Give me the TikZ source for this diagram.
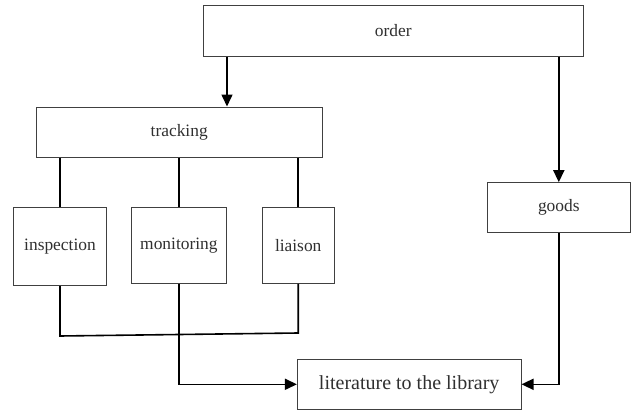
\documentclass[tikz,border=0pt]{standalone}
\usepackage{fontspec}
\setmainfont{Liberation Serif}
\usetikzlibrary{arrows.meta}
\definecolor{boxline}{HTML}{404040}
\definecolor{txt}{HTML}{303030}
\begin{document}
\begin{tikzpicture}[x=1pt,y=-1pt,
  box/.style={draw=boxline,line width=1pt,fill=white,inner sep=0pt,text=txt,
    font=\fontsize{17.4}{20}\selectfont},
  conn/.style={draw=black,line width=1.6pt},
  arr/.style={conn,-{Triangle[length=12pt,width=11pt]}}]
\useasboundingbox (0,0) rectangle (632,412);
\node[box,minimum width=380pt,minimum height=51pt] (order) at (393.3,31) {order};
\node[box,minimum width=285.6pt,minimum height=50pt] (tracking) at (179.2,132) {tracking};
\node[box,minimum width=142.5pt,minimum height=50pt] (goods) at (558.8,207.7) {goods};
\node[box,minimum width=93.5pt,minimum height=78pt] (insp) at (60,246.7) {inspection};
\node[box,minimum width=95pt,minimum height=75.6pt] (mon) at (178.9,245.5) {monitoring};
\node[box,minimum width=71.6pt,minimum height=75.6pt] (liaison) at (298.2,245.5) {liaison};
\node[box,minimum width=223.6pt,minimum height=50pt,font=\fontsize{20}{23}\selectfont] (lit) at (409.2,384.3) {literature to the library};
\coordinate (j1) at (60,336);
\coordinate (j2) at (298.2,333);
\draw[arr] (order.south -| 227,0) -- (tracking.north -| 227,0);
\draw[arr] (order.south -| goods.north) -- (goods.north);
\draw[conn] (tracking.south -| insp.north) -- (insp.north);
\draw[conn] (tracking.south -| mon.north) -- (mon.north);
\draw[conn] (tracking.south -| liaison.north) -- (liaison.north);
\draw[conn] (insp.south) -- (j1) -- (j2) -- (liaison.south);
\draw[arr] (mon.south) |- (lit.west);
\draw[arr] (goods.south) |- (lit.east);
\end{tikzpicture}
\end{document}
